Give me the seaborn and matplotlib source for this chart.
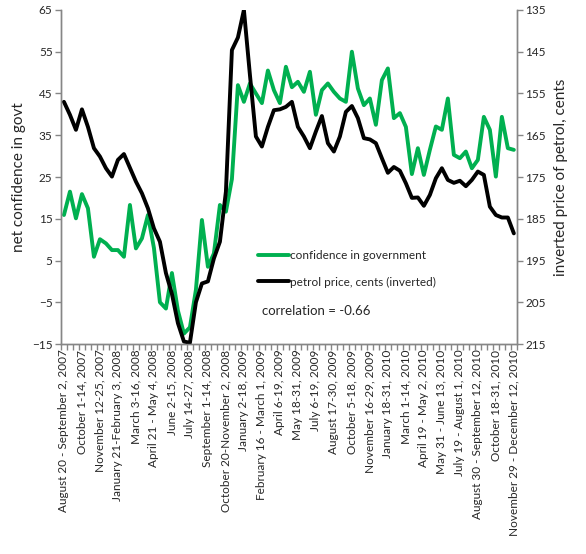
import matplotlib.pyplot as plt
import numpy as np
import pandas as pd
import seaborn as sns

# one label every third fortnight
tick_labels = [
    "August 20 - September 2, 2007", "October 1-14, 2007", "November 12-25, 2007",
    "January 21-February 3, 2008", "March 3-16, 2008", "April 21 - May 4, 2008",
    "June 2-15, 2008", "July 14-27, 2008", "September 1-14, 2008",
    "October 20-November 2, 2008", "January 2-18, 2009", "February 16 - March 1, 2009",
    "April 6-19, 2009", "May 18-31, 2009", "July 6-19, 2009", "August 17-30, 2009",
    "October 5-18, 2009", "November 16-29, 2009", "January 18-31, 2010",
    "March 1-14, 2010", "April 19 - May 2, 2010", "May 31 - June 13, 2010",
    "July 19 - August 1, 2010", "August 30 - September 12, 2010",
    "October 18-31, 2010", "November 29 - December 12, 2010",
]

confidence = [
    15.9, 21.5, 15.1, 20.9, 17.5, 5.9, 10.1, 9.1, 7.5, 7.5,
    5.9, 18.3, 7.9, 10.3, 15.9, 8.0, -5.0, -6.5, 2.0, -7.0,
    -12.5, -11.0, -2.0, 14.7, 3.5, 6.7, 18.3, 16.7, 24.5, 47.0,
    43.0, 47.4, 45.0, 42.7, 50.5, 45.8, 42.7, 51.4, 46.5, 47.8,
    45.4, 50.2, 39.9, 45.8, 47.4, 45.4, 43.8, 43.0, 55.0, 46.2,
    42.2, 43.8, 37.5, 48.2, 51.0, 39.1, 40.3, 37.0, 25.7, 31.9,
    25.5, 31.5, 37.1, 36.3, 43.8, 30.3, 29.5, 31.1, 27.1, 29.1,
    39.4, 36.3, 25.1, 39.4, 31.9, 31.5,
]

petrol = [
    157.0, 160.1, 163.7, 158.8, 163.0, 168.1, 170.1, 172.9, 174.9, 170.9,
    169.5, 172.8, 176.1, 178.9, 182.5, 187.3, 190.5, 198.0, 203.0, 210.0,
    214.4, 214.7, 205.0, 200.5, 200.0, 194.5, 190.5, 178.5, 144.6, 141.6,
    135.0, 150.5, 165.3, 167.7, 163.0, 159.0, 158.8, 158.2, 157.0, 163.0,
    165.3, 168.1, 164.1, 160.4, 166.9, 168.9, 165.3, 159.4, 158.0, 160.9,
    165.7, 166.0, 166.9, 170.5, 174.0, 172.6, 173.5, 176.5, 180.0, 179.9,
    181.9, 179.3, 175.3, 172.9, 175.7, 176.4, 175.9, 177.2, 175.7, 173.7,
    174.5, 182.1, 184.1, 184.7, 184.7, 188.5,
]

df = pd.DataFrame({
    "period": np.arange(len(confidence)),
    "confidence": confidence,
    "petrol": petrol,
})

sns.set_theme(style="white")
plt.rcParams["font.family"] = ["Lato", "DejaVu Sans"]

green = "#00B050"
grey = "#868686"

fig = plt.figure(figsize=(5.86, 5.54), dpi=100)
ax = fig.add_axes([0.104, 0.379, 0.778, 0.603])
ax2 = ax.twinx()

sns.lineplot(data=df, x="period", y="confidence", ax=ax, color=green,
             lw=2.8, solid_joinstyle="round", solid_capstyle="round",
             label="confidence in government", legend=False)
sns.lineplot(data=df, x="period", y="petrol", ax=ax2, color="black",
             lw=2.8, solid_joinstyle="round", solid_capstyle="round",
             label="petrol price, cents (inverted)", legend=False)

n = len(confidence)
ax.set_xlim(-0.5, n - 0.5)
ax.set_ylim(-15, 65)
ax.set_yticks(np.arange(-15, 66, 10))
ax2.set_ylim(215, 135)
ax2.set_yticks(np.arange(135, 216, 10))

ax.set_xticks(np.arange(0, n, 3))
ax.set_xticklabels(tick_labels, rotation=90, fontsize=8.5)
ax.set_xticks(np.arange(-0.5, n, 1), minor=True)

for a in (ax, ax2):
    for s in a.spines.values():
        s.set_color(grey)
        s.set_linewidth(1)
    a.spines["top"].set_visible(False)
    a.set_xlabel("")
    a.grid(False)

ax.tick_params(axis="x", which="major", length=0, pad=4, labelsize=8.5)
ax.tick_params(axis="x", which="minor", bottom=True, length=4, color=grey, width=1)
ax.tick_params(axis="y", left=True, length=4, color=grey, width=1, labelsize=8.5, pad=2)
ax2.tick_params(axis="y", right=True, length=4, color=grey, width=1, labelsize=8.5, pad=2)

ax.set_ylabel("net confidence in govt", fontsize=11, labelpad=4)
ax2.set_ylabel("inverted price of petrol, cents", fontsize=11, labelpad=6)

handles = [ax.get_lines()[0], ax2.get_lines()[0]]
ax2.legend(handles, [h.get_label() for h in handles], loc="center left",
           bbox_to_anchor=(0.41, 0.225), frameon=False, fontsize=8.5,
           handlelength=2.6, labelspacing=1.3, handletextpad=0.1)
ax2.text(0.44, 0.099, "correlation = -0.66", transform=ax2.transAxes,
         fontsize=9.5, va="center", ha="left")

fig.savefig("out.png", dpi=100)
